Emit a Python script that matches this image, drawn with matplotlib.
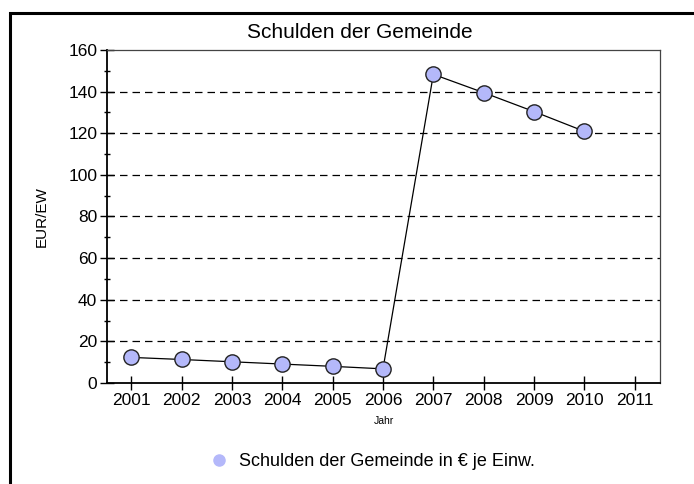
import matplotlib

matplotlib.use("Agg")
import matplotlib.pyplot as plt
from matplotlib.patches import Rectangle
from matplotlib.lines import Line2D
from matplotlib.ticker import MultipleLocator

plt.rcParams["font.family"] = ["Liberation Sans Narrow", "Liberation Sans", "DejaVu Sans"]

years = [2001, 2002, 2003, 2004, 2005, 2006, 2007, 2008, 2009, 2010]
debt_per_capita = [12.3, 11.3, 10.2, 9.1, 8.0, 6.8, 148.3, 139.5, 130.4, 120.9]
year_ticks = list(range(2001, 2012))
chart_title = "Schulden der Gemeinde"
series_label = "Schulden der Gemeinde in € je Einw."

fig = plt.figure(figsize=(6.94, 4.84), dpi=100)
ax = fig.add_axes([107 / 694, 1 - 383 / 484, (660 - 107) / 694, (383 - 50) / 484])

# outer frame, cut off at the right and bottom like the original
fig.patches.append(Rectangle((10 / 694, -0.1), 1.2, 1 - 13 / 484 + 0.1,
                             transform=fig.transFigure, fill=False,
                             edgecolor="black", linewidth=2.2))

ax.plot(years, debt_per_capita, color="black", linewidth=0.9, marker="o",
        markersize=11, markerfacecolor="#b4b8fa", markeredgecolor="#222222",
        markeredgewidth=1.0, zorder=3)

ax.set_xlim(2000.52, 2011.5)
ax.set_ylim(0, 160)
ax.set_xticks(year_ticks)
ax.yaxis.set_major_locator(MultipleLocator(20))
ax.yaxis.set_minor_locator(MultipleLocator(10))
ax.tick_params(axis="both", which="major", direction="inout", length=10, width=1,
               labelsize=12.5, colors="black")
ax.tick_params(axis="y", which="minor", direction="inout", length=5, width=1)
ax.tick_params(axis="x", pad=2)
ax.tick_params(axis="y", pad=2)

for v in range(20, 160, 20):
    ax.axhline(v, color="black", linestyle=(0, (6, 4)), linewidth=0.9, zorder=1)

for side in ["left", "bottom"]:
    ax.spines[side].set_linewidth(1.3)
for side in ["top", "right"]:
    ax.spines[side].set_linewidth(0.9)
    ax.spines[side].set_color("#444444")

fig.text(360 / 694, 1 - 33 / 484, chart_title, fontsize=15, ha="center", va="center")
ax.set_ylabel("EUR/EW", fontsize=11, labelpad=14)
ax.set_xlabel("Jahr", fontsize=7.5, labelpad=6)

handle = Line2D([], [], linestyle="none", marker="o", markersize=8,
                markerfacecolor="#b4b8fa", markeredgecolor="#b4b8fa")
fig.legend([handle], [series_label], loc="center left",
           bbox_to_anchor=(201 / 694, 1 - 462 / 484), borderaxespad=0,
           frameon=False, fontsize=13, handletextpad=0.5, handlelength=1.2)

fig.savefig("out.png", dpi=100)
